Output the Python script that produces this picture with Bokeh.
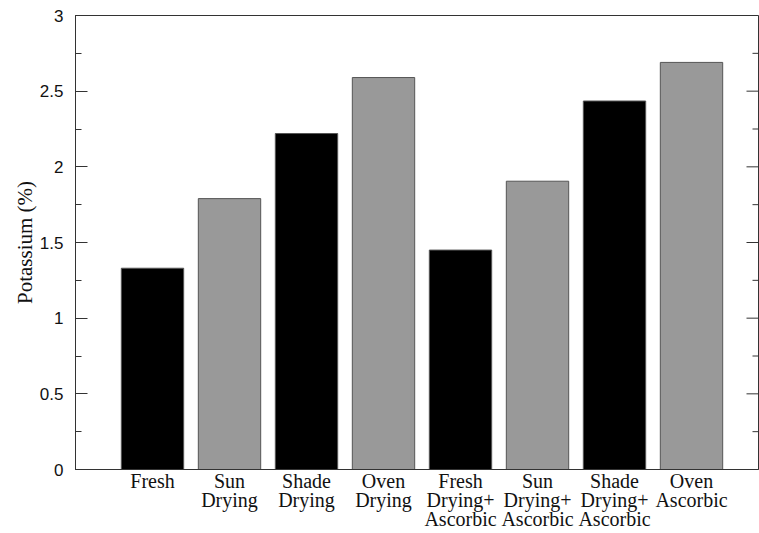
import math
from bokeh.plotting import figure
from bokeh.models import LinearAxis, SingleIntervalTicker, FixedTicker, CustomJSTickFormatter, Range1d, ColumnDataSource
from bokeh.embed import file_html
from bokeh.resources import INLINE

categories = ["Fresh", "Sun\nDrying", "Shade\nDrying", "Oven\nDrying",
              "Fresh\nDrying+\nAscorbic", "Sun\nDrying+\nAscorbic",
              "Shade\nDrying+\nAscorbic", "Oven\nAscorbic"]
potassium = [1.33, 1.79, 2.22, 2.59, 1.45, 1.905, 2.435, 2.69]
bar_colors = ["#000000", "#999999", "#000000", "#999999",
              "#000000", "#999999", "#000000", "#999999"]
y_major_ticks = [0, 0.5, 1, 1.5, 2, 2.5, 3]
y_minor_ticks = [0.25, 0.75, 1.25, 1.75, 2.25, 2.75]

xs = list(range(1, len(categories) + 1))
src = ColumnDataSource(dict(x=xs, top=potassium, color=bar_colors))

x_end = 8.87
p = figure(width=759, height=533, output_backend="svg", toolbar_location=None,
           x_range=Range1d(0, x_end), y_range=Range1d(0, 3),
           min_border_left=75, min_border_right=1, min_border_top=15, min_border_bottom=63,
           y_axis_location=None, x_axis_location=None)
p.xgrid.visible = False
p.ygrid.visible = False
p.outline_line_color = "#333333"
p.outline_line_width = 1
p.background_fill_color = "white"
p.border_fill_color = "white"

p.vbar(x="x", top="top", width=0.81, bottom=0, fill_color="color",
       line_color="#555555", line_width=1, source=src)

# inward ticks on the right edge of the frame
p.ray(x=[x_end] * len(y_major_ticks), y=y_major_ticks, length=12, angle=math.pi,
      length_units="screen", line_color="#333333", line_width=1)
p.ray(x=[x_end] * len(y_minor_ticks), y=y_minor_ticks, length=6, angle=math.pi,
      length_units="screen", line_color="#333333", line_width=1)

fmt = CustomJSTickFormatter(code="return tick.toString();")

yleft = LinearAxis(ticker=SingleIntervalTicker(interval=0.5, num_minor_ticks=2),
                   formatter=fmt, axis_label="Potassium (%)")
yleft.major_tick_in = 12
yleft.major_tick_out = 0
yleft.minor_tick_in = 6
yleft.minor_tick_out = 0
yleft.axis_line_color = "#333333"
yleft.major_tick_line_color = "#333333"
yleft.minor_tick_line_color = "#333333"
yleft.major_label_text_font = "Liberation Sans"
yleft.major_label_text_font_size = "17px"
yleft.major_label_text_color = "#111111"
yleft.major_label_standoff = 12
yleft.axis_label_text_font = "Liberation Serif"
yleft.axis_label_text_font_size = "21px"
yleft.axis_label_text_font_style = "normal"
yleft.axis_label_text_color = "#111111"
yleft.axis_label_standoff = 0
p.add_layout(yleft, "left")

xaxis = LinearAxis(ticker=FixedTicker(ticks=xs))
xaxis.major_label_overrides = {x: c for x, c in zip(xs, categories)}
xaxis.major_tick_in = 0
xaxis.major_tick_out = 0
xaxis.minor_tick_line_color = None
xaxis.axis_line_color = "#333333"
xaxis.major_label_text_font = "Liberation Serif"
xaxis.major_label_text_font_size = "20px"
xaxis.major_label_text_color = "#111111"
xaxis.major_label_text_line_height = 0.88
xaxis.major_label_standoff = 0
p.add_layout(xaxis, "below")

open("out.html", "w").write(file_html(p, INLINE))
